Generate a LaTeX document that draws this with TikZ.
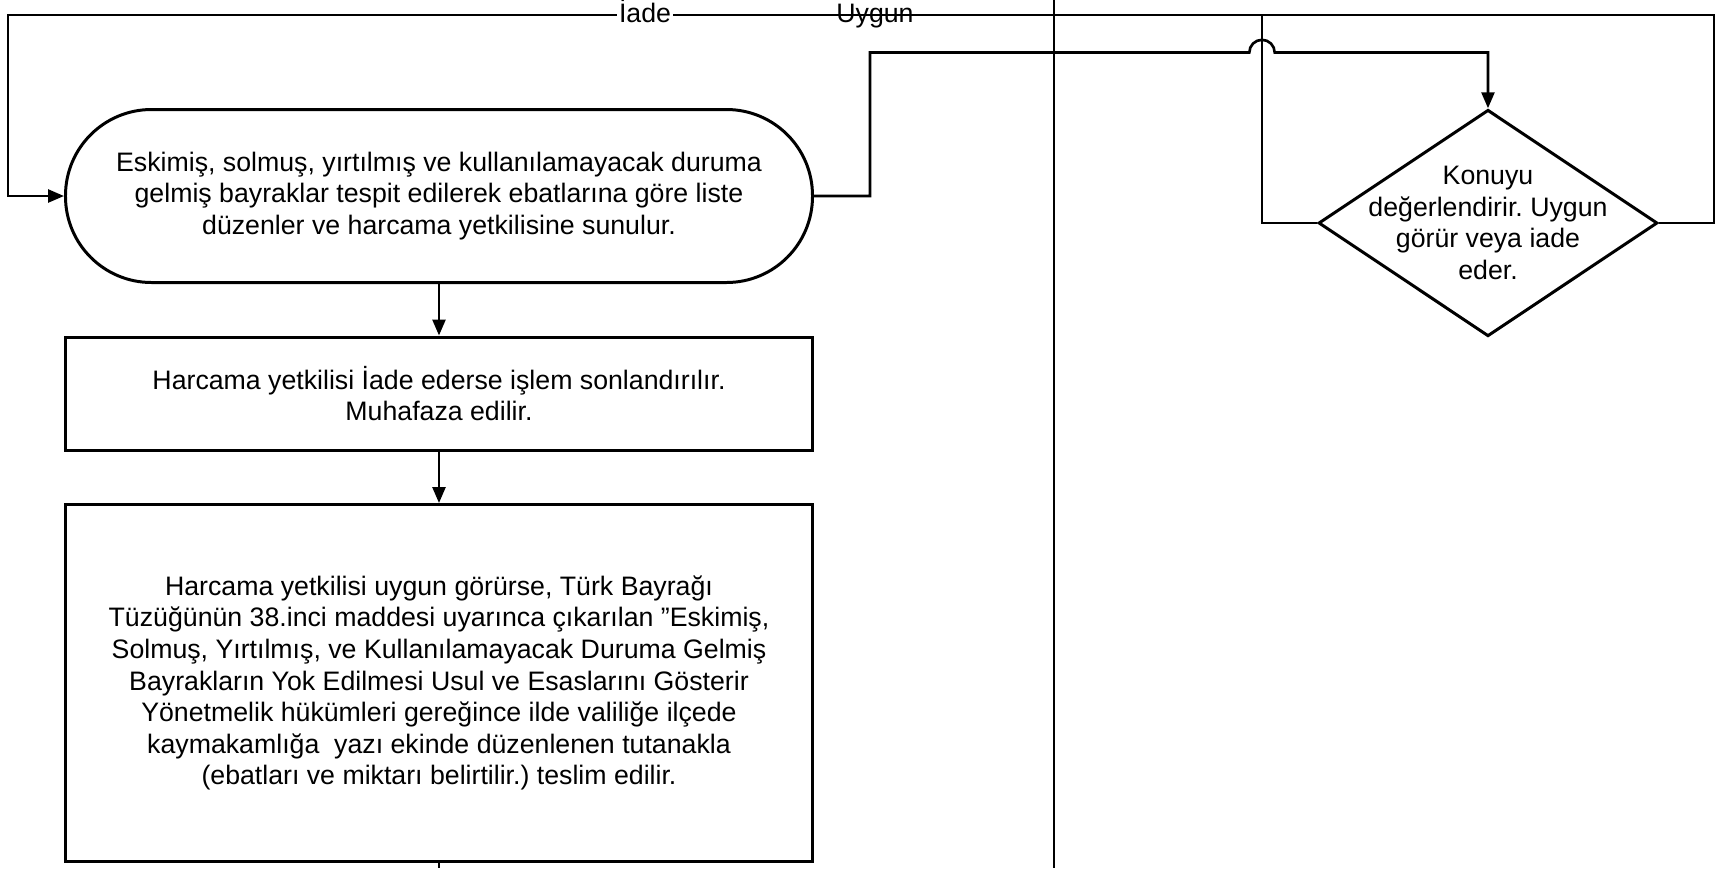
\documentclass[tikz,border=0pt]{standalone}
\usepackage{fontspec}
\setmainfont{Liberation Sans}
\usetikzlibrary{arrows.meta,shapes.geometric}

\tikzset{
  box/.style={draw, line width=0.85pt, minimum width=7.47cm, align=center, inner sep=0pt},
  endbox/.style={box, rounded corners=0.86cm, minimum height=1.73cm},
  decide/.style={draw, diamond, line width=0.85pt, minimum width=3.39cm, minimum height=2.265cm, inner sep=0pt},
  link/.style={line width=0.75pt},
  arr/.style={link, -{Triangle[length=1.6mm,width=1.3mm]}},
  lbl/.style={fill=white, inner sep=0.5pt, anchor=base, yshift=-2pt}
}

\begin{document}
\frenchspacing
\begin{tikzpicture}[every node/.style={font=\fontsize{7.6}{9}\selectfont}]
% Page
\useasboundingbox (0,0) rectangle (17.16,-8.68);
% Lane divider
\coordinate (lt) at (10.54,0);
\coordinate (lb) at (10.54,-8.68);
\draw[link] (lt) -- (lb);
% Steps
\node[endbox] (start) at (4.39,-1.96) {Eskimiş, solmuş, yırtılmış ve kullanılamayacak duruma\\gelmiş bayraklar tespit edilerek ebatlarına göre liste\\düzenler ve harcama yetkilisine sunulur.};
\node[box, minimum height=1.13cm] (ret) at (4.39,-3.935) {Harcama yetkilisi İade ederse işlem sonlandırılır.\\Muhafaza edilir.};
\node[box, minimum height=3.57cm] (give) at (4.39,-6.83) {Harcama yetkilisi uygun görürse, Türk Bayrağı\\Tüzüğünün 38.inci maddesi uyarınca çıkarılan ”Eskimiş,\\Solmuş, Yırtılmış, ve Kullanılamayacak Duruma Gelmiş\\Bayrakların Yok Edilmesi Usul ve Esaslarını Gösterir\\Yönetmelik hükümleri gereğince ilde valiliğe ilçede\\kaymakamlığa\ \ yazı ekinde düzenlenen tutanakla\\(ebatları ve miktarı belirtilir.) teslim edilir.};
% Decision
\node[decide] (chk) at (14.88,-2.23) {};
\node[align=center] (chktxt) at (chk) {Konuyu\\değerlendirir. Uygun\\görür veya iade\\eder.};
% Bend points
\coordinate (sr) at (8.70,-1.96);
\coordinate (jl) at (12.493,-0.525);
\coordinate (ug) at (8.75,-0.15);
\coordinate (ul) at (12.62,-0.15);
\coordinate (ir) at (17.14,-0.15);
\coordinate (ia) at (6.45,-0.15);
\coordinate (il) at (0.08,-0.15);
\coordinate (out) at (4.39,-8.68);
% Flow down the lane
\draw[arr] (start) -- (ret);
\draw[arr] (ret) -- (give);
\draw[link] (give) -- (out);
% To the decision, jumping the Uygun line
\draw[arr] (start.east) -- (sr) |- (jl) arc (180:0:0.127) -| (chk.north);
% Uygun
\draw[link] (chk.west) -| (ul) -- (ug) node[lbl] {Uygun};
% Iade back to the start
\draw[arr] (chk.east) -| (ir) -- (ia) node[lbl] {İade} -- (il) |- (start.west);
\end{tikzpicture}
\end{document}
